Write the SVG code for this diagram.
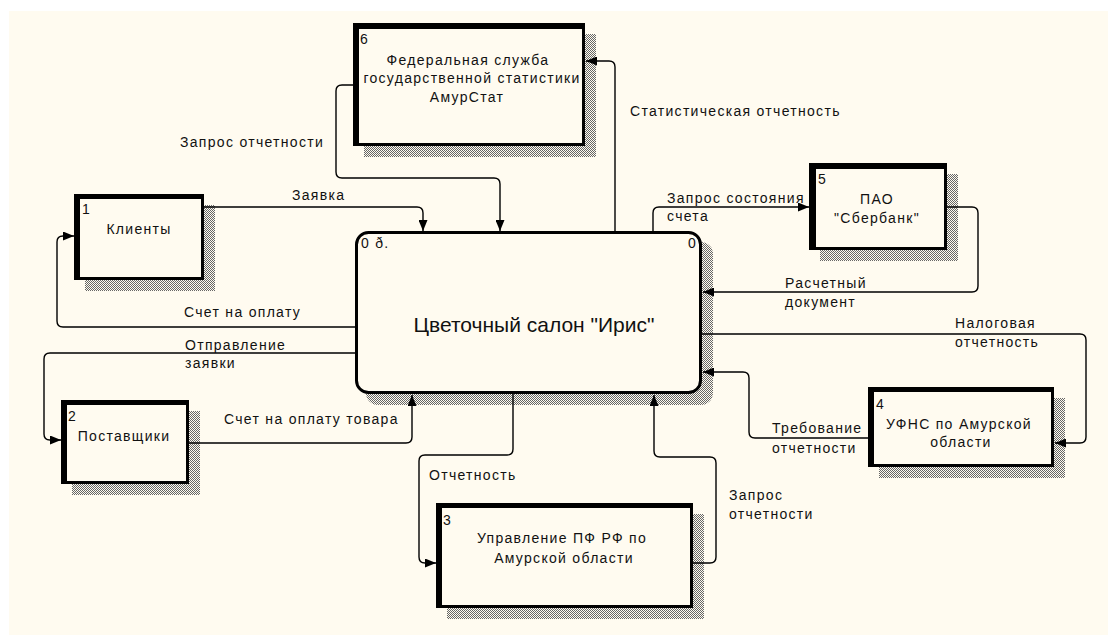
<svg xmlns="http://www.w3.org/2000/svg" width="1108" height="635" viewBox="0 0 1108 635">
<style>
.bg{fill:#fffbf0}
.box{fill:#fffbf0;stroke:#000;stroke-width:3}
.thick{fill:#000}
.sh{fill:url(#hatch)}
.t{font-family:"Liberation Sans",Arial,sans-serif;font-size:14px;letter-spacing:1.3px;fill:#111}
.tc{text-anchor:middle}
.big{font-size:21px;letter-spacing:0px}
.c{fill:none;stroke:#000;stroke-width:1.4}
</style>
<defs>
<pattern id="hatch" width="2" height="2" patternUnits="userSpaceOnUse">
<rect width="2" height="2" fill="#fffbf0"/>
<rect x="0" y="0" width="1" height="1" fill="#666"/>
<rect x="1" y="1" width="1" height="1" fill="#666"/>
</pattern>
<marker id="arr" markerWidth="11" markerHeight="9" refX="11" refY="4.5" orient="auto" markerUnits="userSpaceOnUse">
<path d="M0,0 L11,4.5 L0,9 Z" fill="#000"/>
</marker>
</defs>
<rect class="bg" x="9" y="11" width="1099" height="624"/>

<g id="node0">
<rect class="sh" x="366" y="242" width="347" height="163" rx="12"/>
<rect class="box" x="356.5" y="232.5" width="344" height="160" rx="12"/>
<text class="t" x="361" y="248">0 ð.</text>
<text class="t" x="697" y="248" text-anchor="end">0</text>
<text class="t tc big" x="534" y="332">Цветочный салон "Ирис"</text>
</g>

<g id="node1">
<rect class="sh" x="85" y="205" width="130" height="86"/>
<rect class="box" x="75.5" y="195.5" width="127" height="83"/>
<rect class="thick" x="74" y="194" width="6" height="86"/>
<rect class="thick" x="74" y="194" width="130" height="5"/>
<text class="t" x="82" y="214">1</text>
<text class="t tc" x="139" y="234">Клиенты</text>
</g>

<g id="node2">
<rect class="sh" x="72" y="411" width="128" height="84"/>
<rect class="box" x="62.5" y="401.5" width="125" height="81"/>
<rect class="thick" x="61" y="400" width="6" height="84"/>
<rect class="thick" x="61" y="400" width="128" height="5"/>
<text class="t" x="68" y="421">2</text>
<text class="t tc" x="124" y="441">Поставщики</text>
</g>

<g id="node3">
<rect class="sh" x="447" y="514" width="257" height="105"/>
<rect class="box" x="437.5" y="504.5" width="254" height="102"/>
<rect class="thick" x="436" y="503" width="6" height="105"/>
<rect class="thick" x="436" y="503" width="257" height="5"/>
<text class="t" x="443" y="525">3</text>
<text class="t tc" x="562" y="543">Управление ПФ РФ по</text>
<text class="t tc" x="564" y="563">Амурской области</text>
</g>

<g id="node4">
<rect class="sh" x="879" y="398" width="186" height="80"/>
<rect class="box" x="869.5" y="388.5" width="183" height="77"/>
<rect class="thick" x="868" y="387" width="6" height="80"/>
<rect class="thick" x="868" y="387" width="186" height="5"/>
<text class="t" x="876" y="409">4</text>
<text class="t tc" x="959" y="429">УФНС по Амурской</text>
<text class="t tc" x="961" y="447">области</text>
</g>

<g id="node5">
<rect class="sh" x="820" y="174" width="138" height="87"/>
<rect class="box" x="810.5" y="164.5" width="135" height="84"/>
<rect class="thick" x="809" y="163" width="7" height="87"/>
<rect class="thick" x="809" y="163" width="138" height="6"/>
<text class="t" x="818" y="184">5</text>
<text class="t tc" x="877" y="204">ПАО</text>
<text class="t tc" x="877" y="223">"Сбербанк"</text>
</g>

<g id="node6">
<rect class="sh" x="364" y="34" width="232" height="123"/>
<rect class="box" x="354.5" y="24.5" width="229" height="120"/>
<rect class="thick" x="353" y="23" width="6" height="123"/>
<rect class="thick" x="353" y="23" width="232" height="6"/>
<text class="t" x="360" y="44">6</text>
<text class="t tc" x="468" y="65">Федеральная служба</text>
<text class="t tc" x="472" y="83">государственной статистики</text>
<text class="t tc" x="467" y="102">АмурСтат</text>
</g>

<g id="connectors">
<path class="c" marker-end="url(#arr)" d="M204,207 H417 Q423,207 423,213 V231"/>
<path class="c" marker-end="url(#arr)" d="M353,85 H342 Q336,85 336,91 V172 Q336,178 342,178 H494 Q500,178 500,184 V231"/>
<path class="c" marker-end="url(#arr)" d="M615,231 V67 Q615,61 609,61 H586"/>
<path class="c" marker-end="url(#arr)" d="M653,231 V213 Q653,207 659,207 H809"/>
<path class="c" marker-end="url(#arr)" d="M947,207 H972 Q978,207 978,213 V286 Q978,292 972,292 H703"/>
<path class="c" marker-end="url(#arr)" d="M702,334 H1080 Q1086,334 1086,340 V437 Q1086,443 1080,443 H1055"/>
<path class="c" marker-end="url(#arr)" d="M868,438 H755 Q749,438 749,432 V378 Q749,372 743,372 H703"/>
<path class="c" marker-end="url(#arr)" d="M513,394 V449 Q513,455 507,455 H425 Q419,455 419,461 V557 Q419,563 425,563 H436"/>
<path class="c" marker-end="url(#arr)" d="M693,563 H710 Q716,563 716,557 V463 Q716,457 710,457 H660 Q654,457 654,451 V395"/>
<path class="c" marker-end="url(#arr)" d="M189,443 H406 Q412,443 412,437 V395"/>
<path class="c" marker-end="url(#arr)" d="M355,353 H50 Q44,353 44,359 V434 Q44,440 50,440 H61"/>
<path class="c" marker-end="url(#arr)" d="M355,327 H63 Q57,327 57,321 V242 Q57,236 63,236 H74"/>
</g>

<g id="connector-labels">
<text class="t" x="292" y="200">Заявка</text>
<text class="t" x="180" y="147">Запрос отчетности</text>
<text class="t" x="630" y="116">Статистическая отчетность</text>
<text class="t" x="667" y="203">Запрос состояния</text>
<text class="t" x="667" y="221">счета</text>
<text class="t" x="785" y="288">Расчетный</text>
<text class="t" x="785" y="307">документ</text>
<text class="t" x="955" y="328">Налоговая</text>
<text class="t" x="955" y="347">отчетность</text>
<text class="t" x="772" y="433">Требование</text>
<text class="t" x="772" y="453">отчетности</text>
<text class="t" x="429" y="480">Отчетность</text>
<text class="t" x="729" y="500">Запрос</text>
<text class="t" x="729" y="519">отчетности</text>
<text class="t" x="224" y="424">Счет на оплату товара</text>
<text class="t" x="185" y="350">Отправление</text>
<text class="t" x="185" y="368">заявки</text>
<text class="t" x="184" y="317">Счет на оплату</text>
</g>
</svg>
